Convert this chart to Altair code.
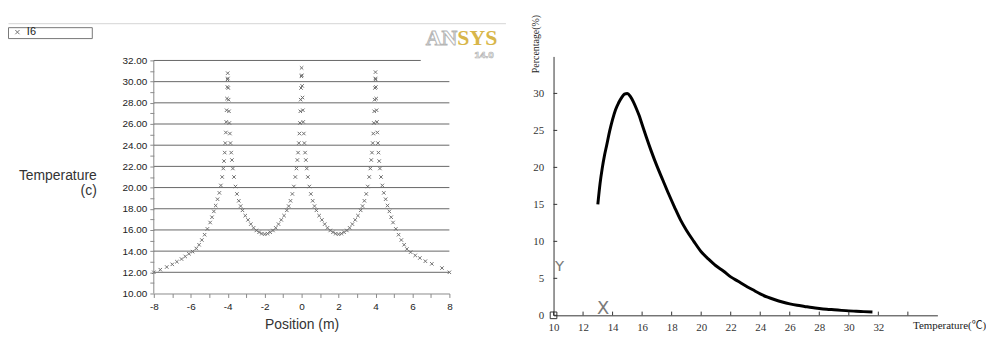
import altair as alt
import pandas as pd

# ---------------- left panel: temperature along position ----------------
left_series = "I6"
left_pos = [
    -8.0, -7.65, -7.3, -7.0, -6.75, -6.5, -6.3, -6.1, -5.9, -5.7,
    -5.55, -5.4, -5.25, -5.1, -4.95, -4.85, -4.75, -4.65, -4.55, -4.45,
    -4.37, -4.3, -4.24, -4.2, -4.16, -4.13, -4.1, -4.08, -4.06, -4.04,
    -4.02, -4.01, -4.0,
    -3.99, -3.97, -3.95, -3.93, -3.91, -3.88, -3.85, -3.81, -3.77, -3.72,
    -3.66, -3.58, -3.5, -3.4, -3.3, -3.2, -3.05, -2.9, -2.75, -2.6,
    -2.45, -2.3, -2.15, -2.0,
    -1.85, -1.7, -1.55, -1.4, -1.25, -1.1, -0.95, -0.8, -0.7, -0.6,
    -0.5, -0.42, -0.34, -0.28, -0.23, -0.19, -0.15, -0.12, -0.09, -0.07,
    -0.05, -0.03, -0.01, 0.0,
    0.01, 0.03, 0.05, 0.07, 0.09, 0.12, 0.15, 0.19, 0.23, 0.28,
    0.34, 0.42, 0.5, 0.6, 0.7, 0.8, 0.95, 1.1, 1.25, 1.4,
    1.55, 1.7, 1.85, 2.0,
    2.15, 2.3, 2.45, 2.6, 2.75, 2.9, 3.05, 3.2, 3.3, 3.4,
    3.5, 3.58, 3.66, 3.72, 3.77, 3.81, 3.85, 3.88, 3.91, 3.93,
    3.95, 3.97, 3.99, 4.0,
    4.01, 4.02, 4.04, 4.06, 4.08, 4.1, 4.13, 4.16, 4.2, 4.24,
    4.3, 4.37, 4.45, 4.55, 4.65, 4.75, 4.85, 4.95, 5.1, 5.25,
    5.4, 5.55, 5.7, 5.9, 6.15, 6.4, 6.7, 7.05, 7.6, 8.0,
]
left_temp = [
    12.0, 12.25, 12.5, 12.75, 13.0, 13.25, 13.5, 13.75, 13.95, 14.25,
    14.6, 15.05, 15.55, 16.1, 16.7, 17.2, 17.75, 18.3, 18.9, 19.5,
    20.2, 21.0, 21.8, 22.5, 23.3, 24.2, 25.2, 26.2, 27.3, 28.4,
    29.5, 30.2, 30.8,
    30.3, 29.4, 28.3, 27.2, 26.1, 25.1, 24.2, 23.3, 22.6, 21.8,
    21.0, 20.1, 19.4, 18.75, 18.25, 17.85, 17.35, 16.95, 16.55, 16.2,
    15.95, 15.78, 15.65, 15.6,
    15.65, 15.78, 15.95, 16.2, 16.55, 16.95, 17.35, 17.85, 18.25, 18.75,
    19.4, 20.1, 21.0, 21.8, 22.6, 23.3, 24.2, 25.1, 26.1, 27.2,
    28.3, 29.4, 30.5, 31.3,
    30.6, 29.6, 28.5, 27.3, 26.2, 25.1, 24.2, 23.3, 22.6, 21.8,
    21.0, 20.1, 19.4, 18.75, 18.25, 17.85, 17.35, 16.95, 16.55, 16.2,
    15.95, 15.78, 15.65, 15.6,
    15.65, 15.78, 15.95, 16.2, 16.55, 16.95, 17.35, 17.85, 18.25, 18.75,
    19.4, 20.1, 21.0, 21.8, 22.6, 23.3, 24.2, 25.1, 26.1, 27.2,
    28.3, 29.4, 30.3, 30.9,
    30.2, 29.5, 28.4, 27.3, 26.2, 25.2, 24.2, 23.3, 22.5, 21.8,
    21.0, 20.2, 19.5, 18.9, 18.3, 17.75, 17.2, 16.7, 16.1, 15.55,
    15.05, 14.6, 14.2, 13.9, 13.6, 13.35, 13.05, 12.8, 12.4, 12.0,
]
left_grid = [12, 14, 16, 18, 20, 22, 24, 26, 28, 30, 32]
left_grid_start = [-8, -8, -8, -8, -8, -8, -8, -8, -8, -8, -8]
left_grid_end = [8, 8, 8, 8, 8, 8, 8, 8, 8, 8, 6.45]
left_axis_span = [10, 32]
left_y_ticks = list(range(10, 33))
left_x_ticks = list(range(-8, 9))

# ---------------- right panel: percentage vs temperature ----------------
right_temp = [13.0, 13.15, 13.3, 13.45, 13.6, 13.8, 14.0, 14.2, 14.4, 14.6,
              14.8, 15.0, 15.2, 15.4, 15.6, 15.8, 16.0, 16.3, 16.6, 17.0,
              17.4, 17.8, 18.2, 18.6, 19.0, 19.5, 20.0, 20.5, 21.0, 21.5,
              22.0, 22.5, 23.0, 23.5, 24.0, 24.5, 25.0, 25.5, 26.0, 26.5,
              27.0, 27.5, 28.0, 28.5, 29.0, 29.5, 30.0, 30.5, 31.0, 31.6]
right_pct = [15.0, 17.8, 19.9, 21.6, 23.0, 24.9, 26.5, 27.8, 28.7, 29.4,
             29.9, 30.0, 29.6, 28.9, 28.0, 27.0, 25.8, 24.0, 22.3, 20.2,
             18.3, 16.4, 14.6, 12.9, 11.5, 10.0, 8.6, 7.6, 6.7, 6.0,
             5.2, 4.6, 4.0, 3.45, 2.9, 2.45, 2.1, 1.8, 1.55, 1.35,
             1.2, 1.05, 0.93, 0.83, 0.75, 0.67, 0.6, 0.55, 0.5, 0.45]
right_y_ticks = [0, 5, 10, 15, 20, 25, 30]
right_x_labels = [10, 12, 14, 16, 18, 20, 22, 24, 26, 28, 30, 32]
right_x_ticks = [10, 12, 14, 16, 18, 20, 22, 24, 26, 28, 30, 32, 34]
ucs_labels = ["Y", "X"]
ucs_temp = [10.4, 13.36]
ucs_pct = [6.7, 0.8]
ucs_size = [15, 18]

CROSS = "M-1,-1L1,1M1,-1L-1,1"
SANS = "Liberation Sans"
SERIF = "Liberation Serif, Noto Sans CJK SC"

# ---------------- left panel ----------------
xl = alt.Scale(domain=[-8, 8], nice=False, zero=False)
yl = alt.Scale(domain=[10, 32.38], nice=False, zero=False)

ax_lx = alt.Axis(
    values=left_x_ticks,
    labelExpr="datum.value % 2 == 0 ? '' + datum.value : ''",
    grid=False, domainColor="#8a8a8a", tickColor="#8a8a8a", tickSize=4,
    labelFont=SANS, labelFontSize=10, labelColor="#222", labelPadding=4,
    labelOverlap=False, labelFlush=False,
    title="Position (m)", titleFont=SANS, titleFontSize=14,
    titleFontWeight="normal", titleColor="#333",
    titleY=31, titleBaseline="middle",
)
ax_ly = alt.Axis(
    values=left_y_ticks,
    labelExpr="datum.value % 2 == 0 ? format(datum.value, '.2f') : ''",
    grid=False, domain=False, tickColor="#8a8a8a", tickSize=4,
    labelFont=SANS, labelFontSize=10, labelColor="#222", labelPadding=3,
    labelOverlap=False, labelFlush=False,
    title=["Temperature", "(c)"], titleFont=SANS, titleFontSize=14,
    titleFontWeight="normal", titleColor="#333", titleAngle=0,
    titleAlign="right", titleBaseline="top", titleX=-58, titleY=113,
    titleLineHeight=15,
)

df_left = pd.DataFrame({"pos": left_pos, "temp": left_temp,
                        "series": [left_series] * len(left_pos)})
points = alt.Chart(df_left).mark_point(
    shape=CROSS, size=12, filled=False, strokeWidth=1, opacity=1
).encode(
    x=alt.X("pos:Q", scale=xl, axis=ax_lx),
    y=alt.Y("temp:Q", scale=yl, axis=ax_ly),
    color=alt.Color(
        "series:N", scale=alt.Scale(range=["#6f6f6f"]),
        legend=alt.Legend(
            orient="none", legendX=-143, legendY=-30, title=None,
            symbolType=CROSS, symbolSize=18, symbolStrokeWidth=1,
            labelFont=SANS, labelFontSize=11, labelColor="#222",
            labelOffset=4, padding=0,
        ),
    ),
)

df_grid = pd.DataFrame({"v": left_grid, "lo": left_grid_start, "hi": left_grid_end})
grid = alt.Chart(df_grid).mark_rule(color="#666666", strokeWidth=1).encode(
    y=alt.Y("v:Q", scale=yl, axis=ax_ly),
    x=alt.X("lo:Q", scale=xl, axis=ax_lx),
    x2="hi:Q",
)
df_axis = pd.DataFrame({"x": [-8], "lo": [left_axis_span[0]], "hi": [left_axis_span[1]]})
left_domain = alt.Chart(df_axis).mark_rule(color="#8a8a8a", strokeWidth=1).encode(
    x=alt.X("x:Q", scale=xl, axis=ax_lx),
    y=alt.Y("lo:Q", scale=yl, axis=ax_ly),
    y2="hi:Q",
)

# decorations placed in pixels relative to the left plot area
one = pd.DataFrame({"a": [0]})
legend_box = alt.Chart(one).mark_rect(fillOpacity=0, stroke="#777", strokeWidth=1).encode(
    x=alt.value(-146.5), x2=alt.value(-62), y=alt.value(-29), y2=alt.value(-18)
)
top_line = alt.Chart(one).mark_rule(color="#d4d4d4", strokeWidth=1).encode(
    x=alt.value(-146.5), x2=alt.value(355), y=alt.value(-33)
)
logo_an = alt.Chart(one).mark_text(
    font="Liberation Serif", fontSize=22, fontWeight="bold",
    fill="white", stroke="#b5b5b5", strokeWidth=1, align="right", baseline="alphabetic"
).encode(x=alt.value(306), y=alt.value(-12), text=alt.value("AN"))
logo_sys = alt.Chart(one).mark_text(
    font="Liberation Serif", fontSize=22, fontWeight="bold",
    fill="#d8b64a", align="left", baseline="alphabetic"
).encode(x=alt.value(306), y=alt.value(-12), text=alt.value("SYS"))
logo_ver = alt.Chart(one).mark_text(
    font="Liberation Sans", fontSize=10, fontWeight="bold",
    fill="#eeeeee", stroke="#b0b0b0", strokeWidth=0.6, align="center", baseline="middle"
).encode(x=alt.value(333), y=alt.value(-1), text=alt.value("14.0"))

left = alt.layer(points, grid, left_domain, legend_box, top_line,
                 logo_an, logo_sys, logo_ver).properties(width=298, height=239)

# ---------------- right panel ----------------
xr = alt.Scale(domain=[10, 36], nice=False, zero=False)
yr = alt.Scale(domain=[0, 35], nice=False, zero=False)

ax_rx = alt.Axis(
    values=right_x_labels,
    grid=False, domainColor="#333", tickSize=0, ticks=True,
    labelFont=SERIF, labelFontSize=11, labelColor="#333", labelPadding=6,
    labelOverlap=False, labelFlush=False,
    title="Temperature(℃)", titleFont=SERIF, titleFontSize=11,
    titleFontWeight="normal", titleColor="#222",
    titleX=362, titleY=10, titleAlign="left", titleBaseline="middle",
)
ax_ry = alt.Axis(
    values=right_y_ticks,
    grid=False, domainColor="#333", tickSize=0, ticks=True,
    labelFont=SERIF, labelFontSize=11, labelColor="#333", labelPadding=10,
    labelOverlap=False, labelFlush=False,
    title="Percentage(%)", titleFont=SERIF, titleFontSize=10,
    titleFontWeight="normal", titleColor="#222", titleAngle=270,
    titleX=-18, titleY=-13, titleAlign="center", titleBaseline="middle",
)

df_right = pd.DataFrame({"t": right_temp, "p": right_pct})
curve = alt.Chart(df_right).mark_line(
    color="black", strokeWidth=3, interpolate="monotone"
).encode(
    x=alt.X("t:Q", scale=xr, axis=ax_rx),
    y=alt.Y("p:Q", scale=yr, axis=ax_ry),
)
df_yt = pd.DataFrame({"v": right_y_ticks, "lo": [10] * len(right_y_ticks),
                      "hi": [10.25] * len(right_y_ticks)})
yticks = alt.Chart(df_yt).mark_rule(color="#333").encode(
    y=alt.Y("v:Q", scale=yr, axis=ax_ry),
    x=alt.X("lo:Q", scale=xr, axis=ax_rx),
    x2="hi:Q",
)
df_xt = pd.DataFrame({"v": right_x_ticks, "lo": [0] * len(right_x_ticks),
                      "hi": [0.5] * len(right_x_ticks)})
xticks = alt.Chart(df_xt).mark_rule(color="#333").encode(
    x=alt.X("v:Q", scale=xr, axis=ax_rx),
    y=alt.Y("lo:Q", scale=yr, axis=ax_ry),
    y2="hi:Q",
)
origin = alt.Chart(pd.DataFrame({"t": [10], "p": [0]})).mark_point(
    shape="square", size=45, filled=False, color="#333", strokeWidth=1, opacity=1
).encode(
    x=alt.X("t:Q", scale=xr, axis=ax_rx),
    y=alt.Y("p:Q", scale=yr, axis=ax_ry),
)
df_ucs = pd.DataFrame({"t": ucs_temp, "p": ucs_pct, "s": ucs_labels, "z": ucs_size})
ucs = alt.Chart(df_ucs).mark_text(font="DejaVu Sans", color="#7a7a7a").encode(
    x=alt.X("t:Q", scale=xr, axis=ax_rx),
    y=alt.Y("p:Q", scale=yr, axis=ax_ry),
    text="s:N",
    size=alt.Size("z:Q", scale=None, legend=None),
)
right = alt.layer(curve, yticks, xticks, origin, ucs).properties(width=387, height=261)

chart = alt.hconcat(left, right, spacing=105, bounds="flush").properties(
    padding={"left": 0, "top": 4.5, "right": 0, "bottom": 0},
).configure_view(strokeWidth=0)

chart.save("out.html", embed_options={"renderer": "svg", "actions": False})
